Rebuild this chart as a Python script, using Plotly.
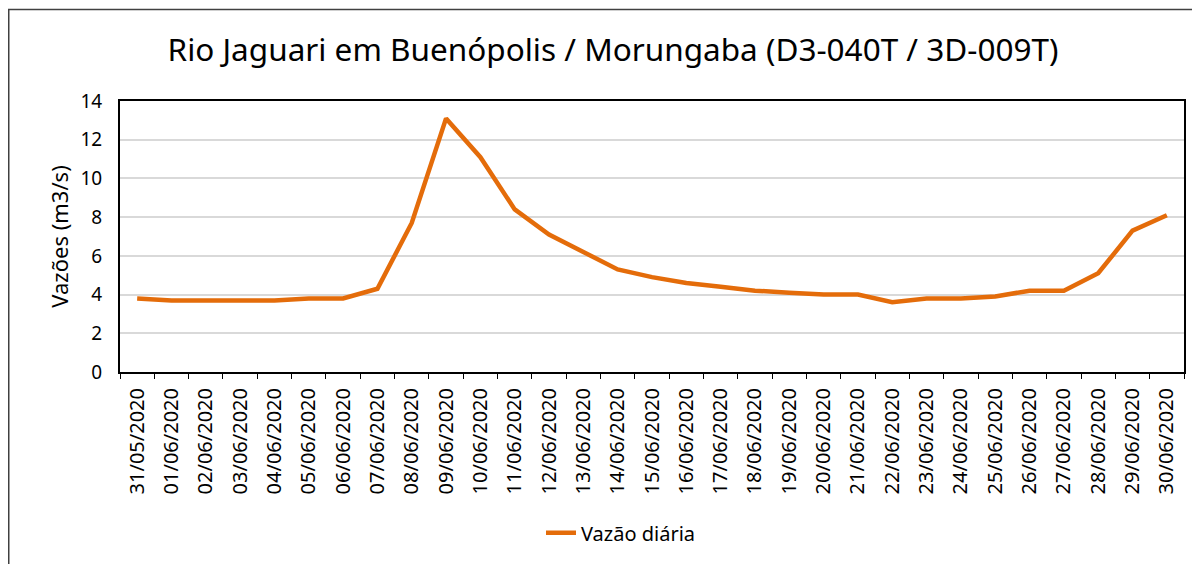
import plotly.graph_objects as go

dates = ["31/05/2020"] + [f"{d:02d}/06/2020" for d in range(1, 31)]
vazao = [3.8, 3.7, 3.7, 3.7, 3.7, 3.8, 3.8, 4.3, 7.7, 13.1,
         11.1, 8.4, 7.1, 6.2, 5.3, 4.9, 4.6, 4.4, 4.2, 4.1,
         4.0, 4.0, 3.6, 3.8, 3.8, 3.9, 4.2, 4.2, 5.1, 7.3, 8.1]

OFF = 8  # page body offset
W, H = 1200 - OFF, 564 - OFF
L, R, T = 120 - OFF, 16, 101 - OFF
B = H - (374 - OFF)
pw, ph = W - L - R, H - T - B

font = "Noto Sans"
fig = go.Figure()
fig.add_trace(go.Scatter(x=dates, y=vazao, mode="lines", name="Vazão diária",
                         line=dict(color="#E46C0A", width=4.5)))

def px2paper_x(px):
    return (px - OFF - L) / pw

def px2paper_y(py):
    return (H - B - (py - OFF)) / ph

fig.update_layout(
    width=W, height=H,
    margin=dict(l=L, r=R, t=T, b=B),
    paper_bgcolor="white", plot_bgcolor="white",
    title=dict(text="Rio Jaguari em Buenópolis / Morungaba (D3-040T / 3D-009T)",
               x=(613 - OFF) / W, xanchor="center", y=1 - (50 - OFF) / H, yanchor="middle",
               font=dict(family=font, size=31.5, color="#000000")),
    font=dict(family=font, color="#000000"),
    xaxis=dict(type="category", tickangle=-90, tickfont=dict(size=20),
               showline=True, linecolor="black", linewidth=2, mirror=True,
               ticks="outside", tickson="boundaries", ticklen=5, tickcolor="black",
               ticklabelstandoff=6,
               showgrid=False, range=[-0.5, len(dates) - 0.5]),
    yaxis=dict(range=[0, 14], dtick=2, tickfont=dict(size=19),
               showline=True, linecolor="black", linewidth=2, mirror=True,
               gridcolor="#d9d9d9", gridwidth=2, ticks="", zeroline=False,
               ticklabelstandoff=12,
               title=dict(text="Vazões (m3/s)", font=dict(size=22), standoff=6)),
    showlegend=True,
    legend=dict(orientation="h", x=px2paper_x(621), xanchor="center",
                y=px2paper_y(536), yanchor="middle", font=dict(size=20)),
    shapes=[dict(type="rect", xref="paper", yref="paper",
                 x0=px2paper_x(OFF + 0.75), x1=px2paper_x(1197), y0=px2paper_y(570),
                 y1=px2paper_y(OFF + 0.75),
                 line=dict(color="#404040", width=1.5), fillcolor="rgba(0,0,0,0)", layer="below")],
)

fig.write_html("out.html")
